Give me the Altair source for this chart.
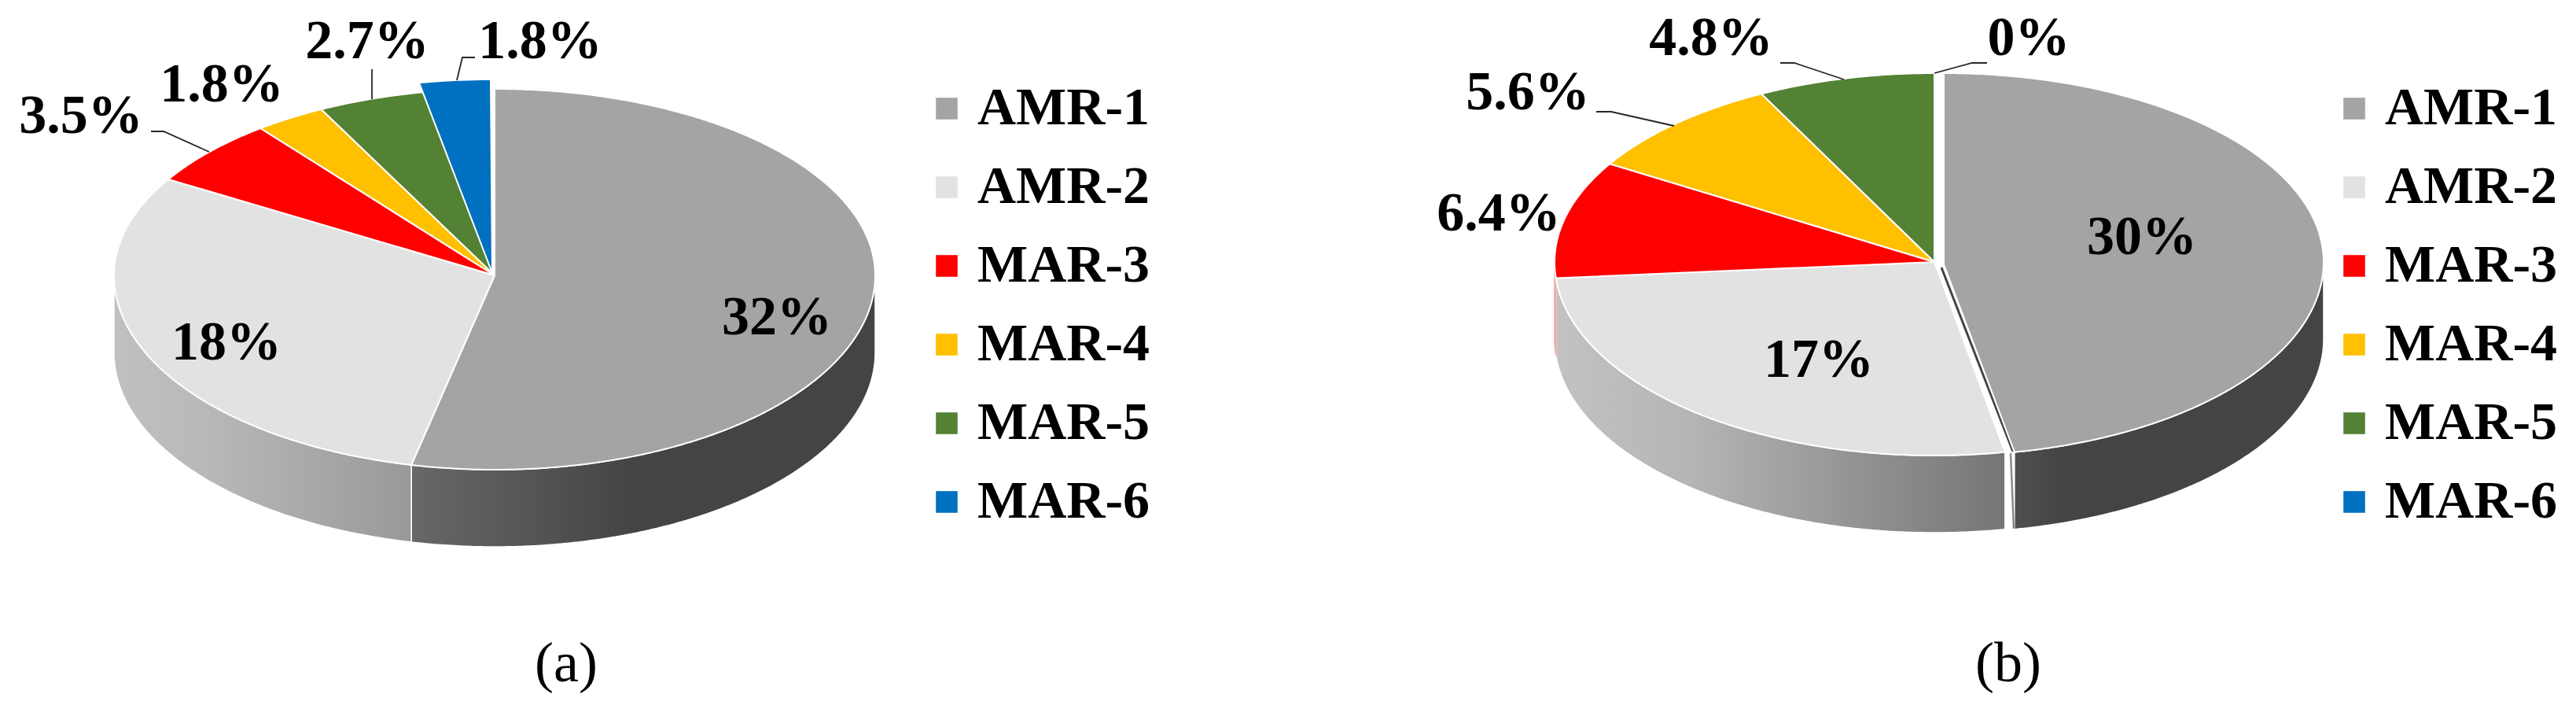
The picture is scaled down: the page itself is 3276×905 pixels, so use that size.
import math
import altair as alt
import pandas as pd

CATEGORIES = ["AMR-1", "AMR-2", "MAR-3", "MAR-4", "MAR-5", "MAR-6"]
COLORS = ["#A4A4A4", "#E2E2E2", "#FF0000", "#FFC000", "#548235", "#0070C0"]
VALUES_A = [32, 18, 3.5, 1.8, 2.7, 1.8]
VALUES_B = [30, 17, 6.4, 5.6, 4.8, 0]
LABELS_A = ["32%", "18%", "3.5%", "1.8%", "2.7%", "1.8%"]
LABELS_B = ["30%", "17%", "6.4%", "5.6%", "4.8%", "0%"]

FONT = "Liberation Serif"
PANEL_H = 880
PANEL_A_W = 1600
PANEL_B_W = 1630

PANELS = [
    dict(
        values=VALUES_A, labels=LABELS_A, caption="(a)", caption_at=(720, 844),
        origin=8, width=PANEL_A_W, cx=629, cy=350, rx=484, ry_top=237, ry_bot=247, depth=98,
        explode={5: ((-5, -12), (-3, -3))},
        label_at=[(988, 404), (288, 436), (103, 148), (282, 108), (467, 53), (687, 53)],
        leaders=[[(581, 102), (588, 73), (604, 73)],
                 [(473, 126), (473, 88)],
                 [(266, 193), (208, 167), (192, 167)]],
        inner=[],
        walls={0: [(0, "#686868"), (0.48, "#444444"), (1, "#444444")],
               1: [(0, "#C0C0C0"), (0.3, "#B9B9B9"), (1, "#999999")]},
        legend_x=1162, legend_y=96,
    ),
    dict(
        values=VALUES_B, labels=LABELS_B, caption="(b)", caption_at=(2554, 844),
        origin=8 + PANEL_A_W, width=PANEL_B_W, cx=2460, cy=333, rx=483, ry_top=240, ry_bot=246, depth=98,
        explode={0: ((12, 0), (12, 3))},
        label_at=[(2724, 302), (2313, 458), (1906, 272), (1943, 118), (2176, 49), (2580, 49)],
        leaders=[[(2460, 93), (2508, 80), (2527, 80)],
                 [(2345, 101), (2282, 80), (2264, 80)],
                 [(2129, 160), (2049, 142), (2030, 142)]],
        inner=[([(2469, 340), (2560, 574)], "#444444", 3),
               ([(2557, 576), (2561, 672)], "#8A8A8A", 2.5)],
        walls={0: [(0, "#505050"), (0.15, "#444444"), (1, "#444444")],
               1: [(0, "#C2C2C2"), (0.3, "#B5B5B5"), (1, "#757575")],
               2: [(0, "#F4A9A9"), (1, "#F4A9A9")]},
        legend_x=2982 - 8 - PANEL_A_W - 22, legend_y=96,
    ),
]


def panel_chart(p):
    ux = lambda px: (px - p["cx"]) / p["rx"]
    uy = lambda py: (p["cy"] - py) / p["ry_top"]
    ratio = p["ry_bot"] / p["ry_top"]

    def rim(deg):
        t = math.radians(deg)
        c = math.cos(t)
        return math.sin(t), c if c >= 0 else c * ratio

    x_scale = alt.Scale(domain=[ux(p["origin"]), ux(p["origin"] + p["width"])], nice=False, zero=False)
    y_scale = alt.Scale(domain=[uy(8 + PANEL_H), uy(8)], nice=False, zero=False)
    X = alt.X("x:Q", scale=x_scale, axis=None)
    Y = alt.Y("y:Q", scale=y_scale, axis=None)

    total = sum(p["values"])
    spans, start = [], 0.0
    for v in p["values"]:
        spans.append((start, start + 360.0 * v / total))
        start += 360.0 * v / total

    layers = []
    depth_u = p["depth"] / p["ry_top"]

    # side walls: the visible part of each slice's rim, extruded downwards
    for i, stops in p["walls"].items():
        a, b = max(spans[i][0], 90), min(spans[i][1], 270)
        if b <= a:
            continue
        (ox, oy), _ = p["explode"].get(i, ((0, 0), (0, 0)))
        dx, dy = ox / p["rx"], -oy / p["ry_top"]
        n = max(2, int(b - a) * 2)
        angles = [a + (b - a) * k / n for k in range(n + 1)]
        pts = [(rim(d)[0] + dx, rim(d)[1] + dy) for d in angles]
        pts += [(rim(d)[0] + dx, rim(d)[1] + dy - depth_u) for d in reversed(angles)]
        pts.append(pts[0])
        df = pd.DataFrame([{"x": x, "y": y, "i": k} for k, (x, y) in enumerate(pts)])
        grad = alt.LinearGradient(
            gradient="linear", x1=0, x2=1, y1=0, y2=0,
            stops=[alt.GradientStop(offset=o, color=c) for o, c in stops],
        )
        edge = "white" if i < 2 else stops[0][1]
        layers.append(
            alt.Chart(df).mark_line(fill=grad, stroke=edge, strokeWidth=1.5, strokeJoin="round")
            .encode(x=X, y=Y, order=alt.Order("i:Q"))
        )

    # inner face visible in the gap of an exploded slice
    for seg, color, w in p["inner"]:
        df = pd.DataFrame([{"x": ux(a), "y": uy(b), "i": k} for k, (a, b) in enumerate(seg)])
        layers.append(
            alt.Chart(df).mark_line(stroke=color, strokeWidth=w)
            .encode(x=X, y=Y, order=alt.Order("i:Q"))
        )

    # top faces
    rows = []
    for i, (name, (a, b)) in enumerate(zip(CATEGORIES, spans)):
        if b - a <= 0:
            continue
        (ox, oy), (ax, ay) = p["explode"].get(i, ((0, 0), (0, 0)))
        dx, dy = ox / p["rx"], -oy / p["ry_top"]
        n = max(2, int(b - a) * 2)
        pts = [(ax / p["rx"], -ay / p["ry_top"])]
        for k in range(n + 1):
            d = a + (b - a) * k / n
            pts.append((rim(d)[0] + dx, rim(d)[1] + dy))
        pts.append(pts[0])
        rows += [{"x": x, "y": y, "i": k, "name": name} for k, (x, y) in enumerate(pts)]
    legend = alt.Legend(
        title=None, orient="none", legendX=p["legend_x"], legendY=p["legend_y"],
        symbolType="square", symbolSize=760, symbolStrokeWidth=0, symbolOpacity=1,
        labelFont=FONT, labelFontWeight="bold", labelFontSize=68, labelColor="black",
        labelOffset=5, labelLimit=500, rowPadding=32, padding=0, values=CATEGORIES,
    )
    layers.append(
        alt.Chart(pd.DataFrame(rows)).mark_line(stroke="white", strokeWidth=2, strokeJoin="round")
        .encode(
            x=X, y=Y, order=alt.Order("i:Q"),
            fill=alt.Fill("name:N", scale=alt.Scale(domain=CATEGORIES, range=COLORS), legend=legend),
        )
    )

    # leader lines
    rows = []
    for j, seg in enumerate(p["leaders"]):
        rows += [{"x": ux(a), "y": uy(b), "i": k, "leader": j} for k, (a, b) in enumerate(seg)]
    layers.append(
        alt.Chart(pd.DataFrame(rows)).mark_line(stroke="#262626", strokeWidth=1.8)
        .encode(x=X, y=Y, order=alt.Order("i:Q"), detail="leader:N")
    )

    # data labels
    df = pd.DataFrame([
        {"x": ux(a), "y": uy(b), "label": t} for t, (a, b) in zip(p["labels"], p["label_at"])
    ])
    layers.append(
        alt.Chart(df).mark_text(font=FONT, fontWeight="bold", fontSize=70, color="black",
                                align="center", baseline="middle")
        .encode(x=X, y=Y, text="label:N")
    )

    # panel caption
    df = pd.DataFrame([{"x": ux(p["caption_at"][0]), "y": uy(p["caption_at"][1]), "label": p["caption"]}])
    layers.append(
        alt.Chart(df).mark_text(font=FONT, fontSize=72, color="black", align="center", baseline="middle")
        .encode(x=X, y=Y, text="label:N")
    )

    return alt.layer(*layers).properties(width=p["width"], height=PANEL_H)


chart = (
    alt.hconcat(*[panel_chart(p) for p in PANELS], spacing=0)
    .resolve_scale(fill="independent")
    .resolve_legend(fill="independent")
    .properties(padding=0, background="white")
    .configure_view(stroke=None)
)
chart.save("out.html", embed_options={"renderer": "svg", "actions": False})
